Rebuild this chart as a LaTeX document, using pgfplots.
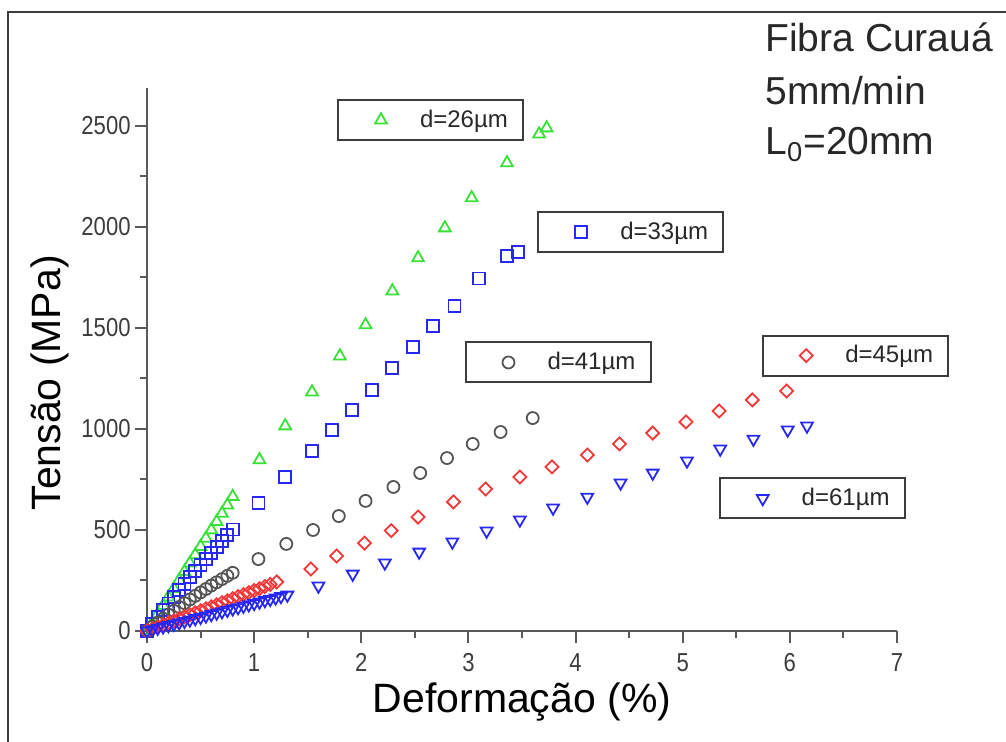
\documentclass[border=0pt]{standalone}
\usepackage{fontspec}
\setmainfont{Liberation Sans}
\newfontfamily\tickfont[FakeStretch=0.85]{Liberation Sans}
\usepackage{pgfplots}
\pgfplotsset{compat=1.18}

\definecolor{cgreen}{RGB}{55,225,55}
\definecolor{cblue}{RGB}{40,40,245}
\definecolor{cgray}{RGB}{85,85,85}
\definecolor{cred}{RGB}{245,55,55}
\definecolor{caxis}{RGB}{90,90,90}
\definecolor{cframe}{RGB}{60,60,60}
\definecolor{ctext}{RGB}{40,40,40}
\definecolor{ctick}{RGB}{60,60,60}

% 1 px of the reference = 0.5pt
\pgfplotsset{
  base/.style={
    scale only axis, width=375pt, height=271.5pt,
    at={(73.5pt,55.5pt)}, anchor=south west,
    xmin=0, xmax=7, ymin=0, ymax=2688,
    enlargelimits=false, clip=false,
    legend style={draw=cframe, line width=1pt, inner sep=0pt,
      column sep=0pt, nodes={inner sep=0pt, text=ctext},
      anchor=center, font=\fontsize{12}{14}\selectfont},
    legend image code/.code={%
      \path[draw=none, fill=none] (0pt,-10pt) rectangle (41pt,10pt);
      \draw[##1] plot coordinates {(21.5pt,0pt)};},
  },
  pts/.style={only marks, line width=0.9pt, mark size=3pt},
}

\begin{document}
\begin{tikzpicture}
\path[use as bounding box] (0,0) rectangle (503pt,371pt);
\draw[cframe, line width=1pt] (4pt,-5pt) -- (4pt,365pt) -- (510pt,365pt);

% main axis, d=26
\begin{axis}[base,
  axis x line*=bottom, axis y line*=left,
  axis line style={caxis, line width=1pt, -},
  tick align=outside, major tick length=6pt, minor tick length=3.5pt,
  tick style={caxis, line width=1pt},
  minor tick style={caxis, line width=1pt},
  xtick={0,1,2,3,4,5,6,7}, minor x tick num=1,
  ytick={0,500,1000,1500,2000,2500}, minor y tick num=1,
  scaled y ticks=false,
  /pgf/number format/assume math mode=true,
  /pgf/number format/1000 sep={},
  ticklabel style={font=\tickfont\fontsize{13}{14}\selectfont, text=ctick},
  xticklabel style={anchor=north, inner sep=0pt, yshift=-5pt},
  yticklabel style={anchor=east, inner sep=0pt, xshift=-2pt},
  label style={font=\fontsize{20.5}{23}\selectfont, text=black, inner sep=0pt},
  xlabel={Deformação (\%)},
  xlabel style={at={(axis description cs:0.5,-0.151)}, anchor=base},
  ylabel={Tensão (MPa)},
  ylabel style={at={(axis description cs:-0.1147,0.457)}, anchor=base},
  legend style={at={(axis description cs:0.378,0.941)}},
]
\addplot[pts, cgreen, mark=triangle, mark size=3.4pt] coordinates {
(0,0) (0.05,42) (0.1,84) (0.15,126) (0.2,168) (0.25,210) (0.3,252)
(0.35,294) (0.4,336) (0.45,377) (0.5,418) (0.55,459) (0.6,500)
(0.65,541) (0.7,582) (0.75,623) (0.8,665)
(1.05,847) (1.29,1015) (1.54,1183) (1.80,1361) (2.04,1515) (2.29,1683)
(2.53,1847) (2.78,1995) (3.03,2144) (3.36,2317) (3.66,2460) (3.73,2490)
};
\addlegendentry{\makebox[51.5pt][l]{d=26µm}}
\end{axis}

% d=33
\begin{axis}[base, hide axis,
  legend style={at={(axis description cs:0.645,0.735)}}]
\addplot[pts, cblue, mark=square] coordinates {
(0,0) (0.05,35) (0.1,69) (0.15,103) (0.2,136) (0.25,169) (0.3,202)
(0.35,234) (0.4,266) (0.45,297) (0.5,328) (0.55,358) (0.6,388)
(0.65,417) (0.7,446) (0.75,474) (0.8,502)
(1.04,634) (1.29,762) (1.54,891) (1.73,995) (1.91,1094) (2.10,1193)
(2.29,1300) (2.48,1405) (2.67,1510) (2.87,1610) (3.10,1745) (3.36,1855)
(3.46,1876)
};
\addlegendentry{\makebox[51.5pt][l]{d=33µm}}
\end{axis}

% d=41
\begin{axis}[base, hide axis,
  legend style={at={(axis description cs:0.548,0.4945)}}]
\addplot[pts, cgray, mark=o] coordinates {
(0,0) (0.05,21) (0.1,41) (0.15,61) (0.2,81) (0.25,100) (0.3,119)
(0.35,138) (0.4,156) (0.45,174) (0.5,191) (0.55,208) (0.6,225)
(0.65,241) (0.7,257) (0.75,273) (0.8,288)
(1.04,356) (1.30,431) (1.55,500) (1.79,569) (2.04,644) (2.30,713)
(2.55,782) (2.80,856) (3.04,926) (3.30,985) (3.60,1054)
};
\addlegendentry{\makebox[51.5pt][l]{d=41µm}}
\end{axis}

% d=45
\begin{axis}[base, hide axis,
  legend style={at={(axis description cs:0.945,0.507)}}]
\addplot[pts, cred, mark=square, mark size=2.3pt, mark options={rotate=45}] coordinates {
(0,0) (0.05,10) (0.1,20) (0.15,30) (0.2,40) (0.25,50) (0.3,60)
(0.35,70) (0.4,80) (0.45,90) (0.5,100) (0.55,110) (0.6,120)
(0.65,130) (0.7,140) (0.75,150) (0.8,160) (0.85,170) (0.9,180)
(0.95,190) (1.0,200) (1.05,210) (1.1,220) (1.15,231) (1.21,243)
(1.53,307) (1.77,371) (2.03,435) (2.28,497) (2.53,564) (2.86,639)
(3.16,703) (3.48,762) (3.78,812) (4.11,871) (4.41,926) (4.72,980)
(5.03,1035) (5.34,1089) (5.65,1144) (5.97,1188)
};
\addlegendentry{\makebox[51.5pt][l]{d=45µm}}
\end{axis}

% d=61
\begin{axis}[base, hide axis,
  legend style={at={(axis description cs:0.887,0.244)}}]
\addplot[pts, cblue, mark=triangle, mark size=3.4pt, mark options={rotate=180}] coordinates {
(0,0) (0.05,7) (0.1,14) (0.15,21) (0.2,27) (0.25,34) (0.3,41)
(0.35,48) (0.4,55) (0.45,62) (0.5,68) (0.55,75) (0.6,82)
(0.65,89) (0.7,96) (0.75,103) (0.8,110) (0.85,116) (0.9,123)
(0.95,130) (1.0,137) (1.05,144) (1.1,151) (1.15,157) (1.2,164)
(1.25,171) (1.31,178)
(1.60,223) (1.92,282) (2.22,337) (2.54,391) (2.85,441) (3.17,495)
(3.48,550) (3.79,609) (4.11,663) (4.42,733) (4.72,782) (5.04,842)
(5.35,901) (5.66,950) (5.98,995) (6.16,1015)
};
\addlegendentry{\makebox[51.5pt][l]{d=61µm}}
\end{axis}

\begin{scope}[every node/.style={anchor=base west, inner sep=0pt,
    font=\fontsize{19.5}{22}\selectfont, text=ctext}]
\node at (382.5pt,345pt) {Fibra Curauá};
\node at (382.5pt,318.5pt) {5mm/min};
\node at (382.5pt,293.5pt) {L\textsubscript{0}=20mm};
\end{scope}
\end{tikzpicture}
\end{document}
